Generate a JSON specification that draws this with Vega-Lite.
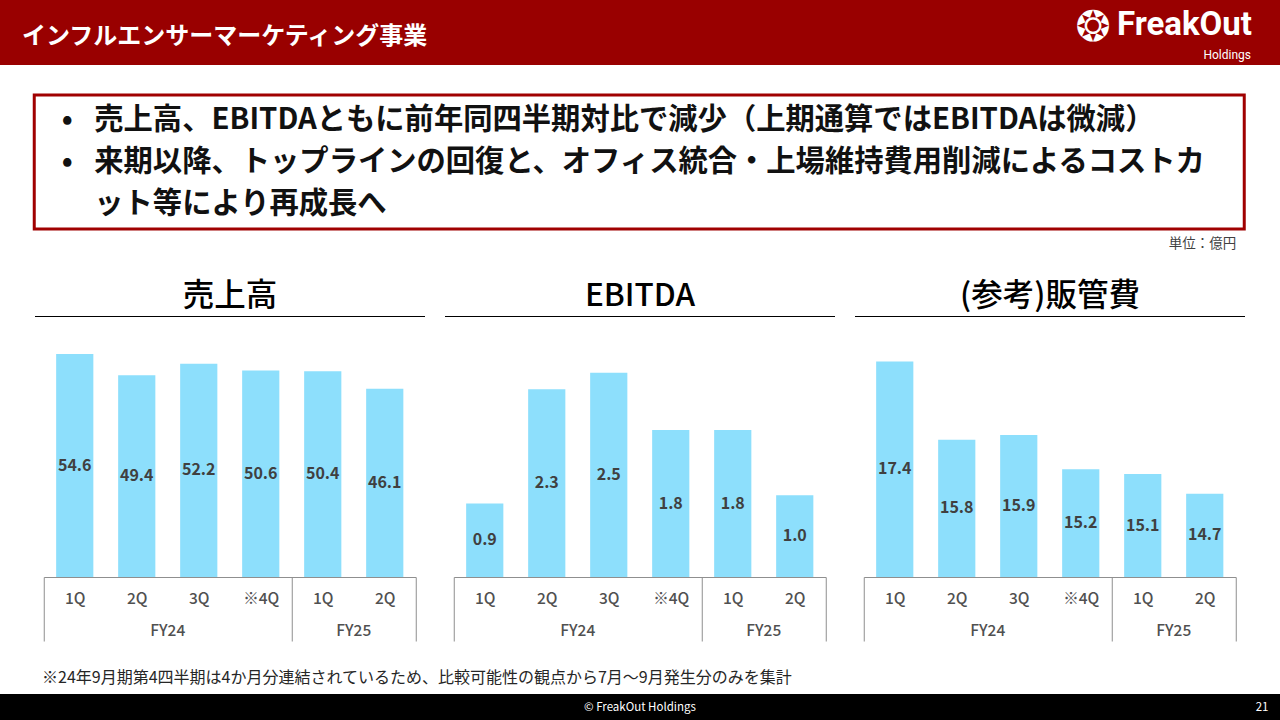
{
  "$schema": "https://vega.github.io/schema/vega-lite/v6.json",
  "padding": 0,
  "background": "#ffffff",
  "spacing": 28,
  "center": true,
  "config": {
    "view": {"stroke": null},
    "font": "Noto Sans CJK JP",
    "text": {"font": "Noto Sans CJK JP"},
    "title": {"font": "Noto Sans CJK JP"},
    "axis": {"labelFont": "Noto Sans CJK JP"}
  },
  "datasets": {
    "sales": [
      {"fy": "FY24", "quarter": "1Q", "key": "FY24 1Q", "value": 54.6},
      {"fy": "FY24", "quarter": "2Q", "key": "FY24 2Q", "value": 49.4},
      {"fy": "FY24", "quarter": "3Q", "key": "FY24 3Q", "value": 52.2},
      {"fy": "FY24", "quarter": "※4Q", "key": "FY24 ※4Q", "value": 50.6},
      {"fy": "FY25", "quarter": "1Q", "key": "FY25 1Q", "value": 50.4},
      {"fy": "FY25", "quarter": "2Q", "key": "FY25 2Q", "value": 46.1}
    ],
    "ebitda": [
      {"fy": "FY24", "quarter": "1Q", "key": "FY24 1Q", "value": 0.9},
      {"fy": "FY24", "quarter": "2Q", "key": "FY24 2Q", "value": 2.3},
      {"fy": "FY24", "quarter": "3Q", "key": "FY24 3Q", "value": 2.5},
      {"fy": "FY24", "quarter": "※4Q", "key": "FY24 ※4Q", "value": 1.8},
      {"fy": "FY25", "quarter": "1Q", "key": "FY25 1Q", "value": 1.8},
      {"fy": "FY25", "quarter": "2Q", "key": "FY25 2Q", "value": 1.0}
    ],
    "sga": [
      {"fy": "FY24", "quarter": "1Q", "key": "FY24 1Q", "value": 17.4},
      {"fy": "FY24", "quarter": "2Q", "key": "FY24 2Q", "value": 15.8},
      {"fy": "FY24", "quarter": "3Q", "key": "FY24 3Q", "value": 15.9},
      {"fy": "FY24", "quarter": "※4Q", "key": "FY24 ※4Q", "value": 15.2},
      {"fy": "FY25", "quarter": "1Q", "key": "FY25 1Q", "value": 15.1},
      {"fy": "FY25", "quarter": "2Q", "key": "FY25 2Q", "value": 14.7}
    ]
  },
  "vconcat": [
    {
      "width": 1280,
      "height": 65,
      "view": {"fill": "#990000", "stroke": null},
      "layer": [
        {
          "data": {"values": [{"label": "インフルエンサーマーケティング事業"}]},
          "mark": {"type": "text", "align": "left", "baseline": "middle", "fontSize": 24, "fontWeight": "bold", "color": "#ffffff"},
          "encoding": {"x": {"value": 22}, "y": {"value": 37}, "text": {"field": "label"}}
        },
        {
          "data": {"values": [{"label": "❂"}]},
          "mark": {"type": "text", "align": "center", "baseline": "middle", "fontSize": 42, "font": "DejaVu Sans", "color": "#ffffff"},
          "encoding": {"x": {"value": 1093}, "y": {"value": 28}, "text": {"field": "label"}}
        },
        {
          "data": {"values": [{"label": "FreakOut"}]},
          "mark": {"type": "text", "align": "right", "baseline": "middle", "fontSize": 33, "fontWeight": "bold", "font": "Roboto", "color": "#ffffff"},
          "encoding": {"x": {"value": 1252}, "y": {"value": 25}, "text": {"field": "label"}}
        },
        {
          "data": {"values": [{"label": "Holdings"}]},
          "mark": {"type": "text", "align": "right", "baseline": "middle", "fontSize": 12, "font": "Roboto", "color": "#ffffff"},
          "encoding": {"x": {"value": 1251}, "y": {"value": 55}, "text": {"field": "label"}}
        }
      ]
    },
    {
      "width": 1210,
      "height": 134,
      "view": {"stroke": "#a00000", "strokeWidth": 3, "fill": null},
      "title": {"text": "単位：億円", "orient": "bottom", "anchor": "end", "dx": -8, "offset": 8, "fontSize": 13.5, "fontWeight": "normal", "color": "#404040"},
      "data": {
        "values": [
          {"line": 1, "bullet": "•", "text": "売上高、EBITDAともに前年同四半期対比で減少（上期通算ではEBITDAは微減）"},
          {"line": 2, "bullet": "•", "text": "来期以降、トップラインの回復と、オフィス統合・上場維持費用削減によるコストカ"},
          {"line": 3, "bullet": "", "text": "ット等により再成長へ"}
        ]
      },
      "encoding": {
        "y": {"field": "line", "type": "ordinal", "axis": null, "scale": {"type": "point", "padding": 0.6}}
      },
      "layer": [
        {
          "mark": {"type": "text", "align": "center", "baseline": "middle", "fontSize": 29, "fontWeight": "bold", "color": "#111111"},
          "encoding": {"x": {"value": 33}, "text": {"field": "bullet"}}
        },
        {
          "mark": {"type": "text", "align": "left", "baseline": "middle", "fontSize": 29.3, "fontWeight": "bold", "color": "#111111"},
          "encoding": {"x": {"value": 60}, "text": {"field": "text"}}
        }
      ]
    },
    {
      "spacing": 20,
      "hconcat": [
        {
          "spacing": 15,
          "center": true,
          "vconcat": [
            {
              "width": 390,
              "height": 1,
              "view": {"fill": "#000000", "stroke": null},
              "title": {"text": "売上高", "fontSize": 31.5, "fontWeight": 500, "color": "#000000", "offset": 4},
              "data": {"values": []},
              "mark": "point"
            },
            {
              "width": 372,
              "height": 245,
              "data": {"name": "sales"},
              "layer": [
                {
                  "mark": {"type": "bar", "color": "#8ddffc", "width": {"band": 0.6}, "clip": true},
                  "encoding": {
                    "x": {"field": "key", "type": "nominal", "sort": null, "scale": {"paddingInner": 0, "paddingOuter": 0},
                      "axis": {"orient": "bottom", "title": null, "labelExpr": "isString(datum.value) ? split(datum.value, ' ')[1] : ''", "labelAngle": 0, "labelFontSize": 15.5, "labelFontWeight": 500, "labelColor": "#505050", "labelPadding": -50, "labelOverlap": false, "domain": true, "domainColor": "#8f8f8f", "ticks": true, "tickBand": "extent", "tickSize": 64, "tickColor": "#8f8f8f", "tickOpacity": {"condition": {"test": "datum.extra || datum.value === 'FY24 ※4Q' || datum.value === 'FY25 2Q'", "value": 1}, "value": 0}, "grid": false}},
                    "y": {"field": "value", "type": "quantitative", "scale": {"domain": [0, 60]}, "axis": null}
                  }
                },
                {
                  "mark": {"type": "text", "baseline": "middle", "fontSize": 16, "fontWeight": "bold", "color": "#404040"},
                  "encoding": {
                    "x": {"field": "key", "type": "nominal", "sort": null, "scale": {"paddingInner": 0, "paddingOuter": 0},
                      "axis": {"orient": "bottom", "title": null, "values": ["FY24 2Q", "FY25 1Q"], "labelExpr": "isString(datum.value) ? split(datum.value, ' ')[0] : ''", "labelAngle": 0, "labelOffset": 31, "labelPadding": 46, "labelFontSize": 15.5, "labelFontWeight": 500, "labelColor": "#505050", "labelOverlap": false, "domain": false, "ticks": false, "grid": false}},
                    "y": {"field": "value", "type": "quantitative", "scale": {"domain": [0, 120]}, "axis": null},
                    "text": {"field": "value", "type": "quantitative", "format": ".1f"}
                  }
                }
              ],
              "resolve": {"scale": {"y": "independent"}, "axis": {"x": "independent"}}
            }
          ]
        },
        {
          "spacing": 15,
          "center": true,
          "vconcat": [
            {
              "width": 390,
              "height": 1,
              "view": {"fill": "#000000", "stroke": null},
              "title": {"text": "EBITDA", "fontSize": 31.5, "fontWeight": 500, "color": "#000000", "offset": 4},
              "data": {"values": []},
              "mark": "point"
            },
            {
              "width": 372,
              "height": 245,
              "data": {"name": "ebitda"},
              "layer": [
                {
                  "mark": {"type": "bar", "color": "#8ddffc", "width": {"band": 0.6}, "clip": true},
                  "encoding": {
                    "x": {"field": "key", "type": "nominal", "sort": null, "scale": {"paddingInner": 0, "paddingOuter": 0},
                      "axis": {"orient": "bottom", "title": null, "labelExpr": "isString(datum.value) ? split(datum.value, ' ')[1] : ''", "labelAngle": 0, "labelFontSize": 15.5, "labelFontWeight": 500, "labelColor": "#505050", "labelPadding": -50, "labelOverlap": false, "domain": true, "domainColor": "#8f8f8f", "ticks": true, "tickBand": "extent", "tickSize": 64, "tickColor": "#8f8f8f", "tickOpacity": {"condition": {"test": "datum.extra || datum.value === 'FY24 ※4Q' || datum.value === 'FY25 2Q'", "value": 1}, "value": 0}, "grid": false}},
                    "y": {"field": "value", "type": "quantitative", "scale": {"domain": [0, 3]}, "axis": null}
                  }
                },
                {
                  "mark": {"type": "text", "baseline": "middle", "fontSize": 16, "fontWeight": "bold", "color": "#404040"},
                  "encoding": {
                    "x": {"field": "key", "type": "nominal", "sort": null, "scale": {"paddingInner": 0, "paddingOuter": 0},
                      "axis": {"orient": "bottom", "title": null, "values": ["FY24 2Q", "FY25 1Q"], "labelExpr": "isString(datum.value) ? split(datum.value, ' ')[0] : ''", "labelAngle": 0, "labelOffset": 31, "labelPadding": 46, "labelFontSize": 15.5, "labelFontWeight": 500, "labelColor": "#505050", "labelOverlap": false, "domain": false, "ticks": false, "grid": false}},
                    "y": {"field": "value", "type": "quantitative", "scale": {"domain": [0, 6]}, "axis": null},
                    "text": {"field": "value", "type": "quantitative", "format": ".1f"}
                  }
                }
              ],
              "resolve": {"scale": {"y": "independent"}, "axis": {"x": "independent"}}
            }
          ]
        },
        {
          "spacing": 15,
          "center": true,
          "vconcat": [
            {
              "width": 390,
              "height": 1,
              "view": {"fill": "#000000", "stroke": null},
              "title": {"text": "(参考)販管費", "fontSize": 31.5, "fontWeight": 500, "color": "#000000", "offset": 4},
              "data": {"values": []},
              "mark": "point"
            },
            {
              "width": 372,
              "height": 245,
              "data": {"name": "sga"},
              "layer": [
                {
                  "mark": {"type": "bar", "color": "#8ddffc", "width": {"band": 0.6}, "clip": true},
                  "encoding": {
                    "x": {"field": "key", "type": "nominal", "sort": null, "scale": {"paddingInner": 0, "paddingOuter": 0},
                      "axis": {"orient": "bottom", "title": null, "labelExpr": "isString(datum.value) ? split(datum.value, ' ')[1] : ''", "labelAngle": 0, "labelFontSize": 15.5, "labelFontWeight": 500, "labelColor": "#505050", "labelPadding": -50, "labelOverlap": false, "domain": true, "domainColor": "#8f8f8f", "ticks": true, "tickBand": "extent", "tickSize": 64, "tickColor": "#8f8f8f", "tickOpacity": {"condition": {"test": "datum.extra || datum.value === 'FY24 ※4Q' || datum.value === 'FY25 2Q'", "value": 1}, "value": 0}, "grid": false}},
                    "y": {"field": "value", "type": "quantitative", "scale": {"domain": [13, 18], "zero": false}, "axis": null}
                  }
                },
                {
                  "mark": {"type": "text", "baseline": "middle", "fontSize": 16, "fontWeight": "bold", "color": "#404040"},
                  "encoding": {
                    "x": {"field": "key", "type": "nominal", "sort": null, "scale": {"paddingInner": 0, "paddingOuter": 0},
                      "axis": {"orient": "bottom", "title": null, "values": ["FY24 2Q", "FY25 1Q"], "labelExpr": "isString(datum.value) ? split(datum.value, ' ')[0] : ''", "labelAngle": 0, "labelOffset": 31, "labelPadding": 46, "labelFontSize": 15.5, "labelFontWeight": 500, "labelColor": "#505050", "labelOverlap": false, "domain": false, "ticks": false, "grid": false}},
                    "y": {"field": "value", "type": "quantitative", "scale": {"domain": [13, 23], "zero": false}, "axis": null},
                    "text": {"field": "value", "type": "quantitative", "format": ".1f"}
                  }
                }
              ],
              "resolve": {"scale": {"y": "independent"}, "axis": {"x": "independent"}}
            }
          ]
        }
      ]
    },
    {
      "width": 1280,
      "height": 27,
      "view": {"fill": "#000000", "stroke": null},
      "title": {"text": "※24年9月期第4四半期は4か月分連結されているため、比較可能性の観点から7月～9月発生分のみを集計", "orient": "top", "anchor": "start", "dx": 42, "offset": 8, "fontSize": 16, "fontWeight": "normal", "color": "#262626"},
      "layer": [
        {
          "data": {"values": [{"label": "© FreakOut Holdings"}]},
          "mark": {"type": "text", "align": "center", "baseline": "middle", "fontSize": 11.5, "color": "#ffffff"},
          "encoding": {"text": {"field": "label"}}
        },
        {
          "data": {"values": [{"label": "21"}]},
          "mark": {"type": "text", "align": "center", "baseline": "middle", "fontSize": 11.5, "color": "#ffffff"},
          "encoding": {"x": {"value": 1262}, "text": {"field": "label"}}
        }
      ]
    }
  ]
}
